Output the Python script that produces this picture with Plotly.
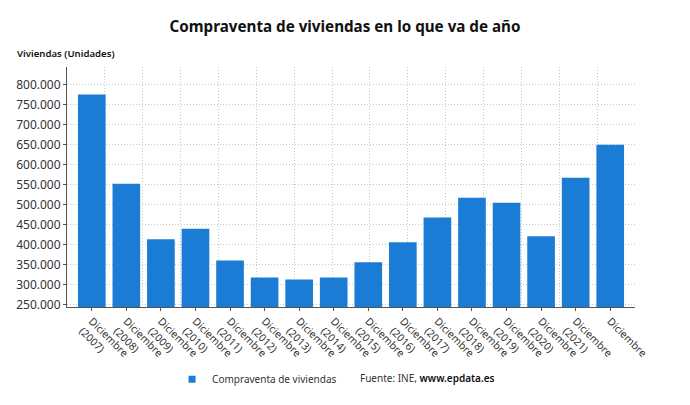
import plotly.graph_objects as go

# Datos (compraventa de viviendas, acumulado hasta diciembre)
years = ["2007", "2008", "2009", "2010", "2011", "2012", "2013", "2014",
         "2015", "2016", "2017", "2018", "2019", "2020", "2021", ""]
sales = [775000, 552000, 414000, 440000, 360500, 318000, 313500, 318000,
         356500, 406000, 468000, 517500, 505000, 421000, 567000, 649500]
y_ticks = [250000, 300000, 350000, 400000, 450000, 500000, 550000,
           600000, 650000, 700000, 750000, 800000]

labels = [f"Diciembre<br>({y})" if y else "Diciembre" for y in years]

BLUE = "#1b7cd5"
TEXT = "#333333"
GRID = "#c8c8c8"

fig = go.Figure()

fig.add_trace(
    go.Bar(
        x=list(range(len(sales))),
        y=sales,
        name="Compraventa de viviendas",
        marker={"color": BLUE, "line": {"width": 0}},
        hovertemplate="%{y:,.0f}<extra></extra>",
        showlegend=False,
    )
)

# Entrada de leyenda con cuadrado pequeno, como en el original
fig.add_trace(
    go.Scatter(
        x=[None], y=[None],
        mode="markers",
        name="Compraventa de viviendas",
        marker={"color": BLUE, "symbol": "square", "size": 7},
        showlegend=True,
    )
)

# Eje secundario invisible, solo para la rejilla vertical
fig.add_trace(
    go.Scatter(x=[0, 15], y=[None, None], xaxis="x2", showlegend=False,
               hoverinfo="skip", mode="markers")
)

fig.update_layout(
    width=690,
    height=405,
    paper_bgcolor="white",
    plot_bgcolor="white",
    separators=",.",
    bargap=0.2,
    margin={"l": 67, "r": 55, "t": 67, "b": 97},
    font={"family": "Noto Sans, Open Sans, sans-serif", "size": 12, "color": TEXT},
    title={
        "text": "Compraventa de viviendas en lo que va de año",
        "x": 0.5,
        "xanchor": "center",
        "y": 1 - 27 / 405,
        "yanchor": "middle",
        "font": {"size": 15.2, "weight": 700, "color": "#111111"},
    },
    showlegend=True,
    legend={
        "orientation": "h",
        "x": 0.185,
        "xanchor": "left",
        "y": -0.296,
        "yanchor": "middle",
        "font": {"size": 10, "color": TEXT},
        "itemwidth": 30,
    },
    xaxis={
        "range": [-0.717, 15.717],
        "tickmode": "array",
        "tickvals": list(range(len(labels))),
        "ticktext": labels,
        "tickangle": 45,
        "tickfont": {"size": 10.5},
        "showgrid": False,
        "showline": True,
        "linecolor": "#555555",
        "linewidth": 1,
        "ticks": "outside",
        "ticklen": 3,
        "tickcolor": "#555555",
        "zeroline": False,
        "automargin": False,
    },
    xaxis2={
        "overlaying": "x",
        "range": [0, 15],
        "dtick": 1,
        "showgrid": True,
        "gridcolor": GRID,
        "griddash": "1px,2px",
        "gridwidth": 1,
        "showticklabels": False,
        "ticks": "",
        "zeroline": False,
        "showline": False,
        "layer": "below traces",
        "automargin": False,
    },
    yaxis={
        "range": [244600, 843600],
        "tickmode": "array",
        "tickvals": y_ticks,
        "tickformat": ",.0f",
        "tickfont": {"size": 12},
        "showgrid": True,
        "gridcolor": GRID,
        "griddash": "1px,2px",
        "showline": True,
        "linecolor": "#555555",
        "linewidth": 1,
        "ticks": "outside",
        "ticklen": 3,
        "tickcolor": "#555555",
        "zeroline": False,
        "automargin": False,
    },
)

fig.add_annotation(
    text="Viviendas (Unidades)",
    xref="paper", yref="paper",
    x=-52 / 568, y=1 + 14 / 242,
    xanchor="left", yanchor="middle",
    showarrow=False,
    font={"size": 9.6, "weight": 600, "color": "#111111"},
)

fig.add_annotation(
    text="Fuente: INE, <span style='font-weight:600;color:#111111'>www.epdata.es</span>",
    xref="paper", yref="paper",
    x=(358 - 67) / 568, y=-0.296,
    xanchor="left", yanchor="middle",
    showarrow=False,
    font={"size": 10, "color": TEXT},
)

# quitar el margen por defecto del body para que el grafico ocupe la ventana
fig.write_html(
    "out.html",
    config={"displayModeBar": False},
    post_script="document.body.style.margin = '0';",
)
